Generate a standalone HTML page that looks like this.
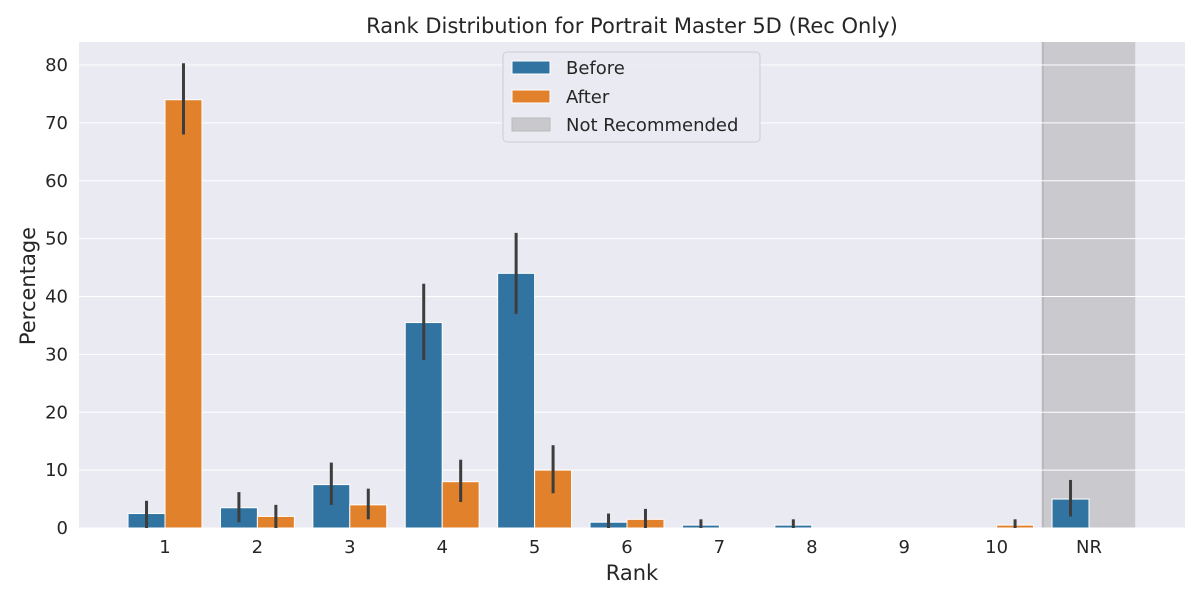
<!DOCTYPE html>
<html><head><meta charset="utf-8"><style>
body{margin:0;background:#fff}
svg{display:block;font-family:"DejaVu Sans","Liberation Sans",sans-serif}
</style></head><body>
<svg id="chart" width="1200" height="600">
<rect x="79" y="42" width="1106" height="486" fill="#eaeaf2"/>
<rect id="nr" y="42" height="486" fill="#cac9ce"/>
<line id="nrl" y1="42" y2="528" stroke="#b8b7bc" stroke-width="2"/>
<g id="grid"></g>
<g id="bars"></g>
<g id="ticks" font-size="18" fill="#262626"></g>
<text x="632" y="33" text-anchor="middle" font-size="21" fill="#262626">Rank Distribution for Portrait Master 5D (Rec Only)</text>
<text x="632" y="580" text-anchor="middle" font-size="21" fill="#262626">Rank</text>
<text transform="translate(35,286) rotate(-90)" text-anchor="middle" font-size="21" fill="#262626">Percentage</text>
<g>
<rect x="503" y="52" width="257" height="90" rx="4" fill="#eaeaf2" stroke="#cccccc" opacity="0.9"/>
<rect x="512" y="61" width="38" height="13" fill="#3274a1" stroke="#fff"/>
<text x="566" y="74" font-size="18" fill="#262626">Before</text>
<rect x="512" y="90" width="38" height="13" fill="#e1812c" stroke="#fff"/>
<text x="566" y="103" font-size="18" fill="#262626">After</text>
<rect x="512" y="118" width="38" height="13" fill="#c9c8cd" stroke="#bbb"/>
<text x="566" y="131" font-size="18" fill="#262626">Not Recommended</text>
</g>
</svg>
<script>
const categories=["1","2","3","4","5","6","7","8","9","10","NR"];
const beforeVals=[2.5,3.5,7.5,35.5,44,1,0.5,0.5,0,0,5];
const afterVals=[74,2,4,8,10,1.5,0,0,0,0.5,0];
const beforeLo=[0,1,4,29,37,0,0,0,0,0,2];
const beforeHi=[4.7,6.2,11.3,42.2,51,2.5,1.5,1.5,0,0,8.3];
const afterLo=[68,0,1.5,4.5,6,0,0,0,0,0,0];
const afterHi=[80.3,4,6.8,11.8,14.3,3.3,0,0,0,1.5,0];
const yTicks=[0,10,20,30,40,50,60,70,80];
const NS='http://www.w3.org/2000/svg';
const xs=i=>165+92.4*i;
const ys=v=>528-v*5.7875;
const bw=92.4*0.4;
function mk(tag,attrs,parent){const e=document.createElementNS(NS,tag);for(const k in attrs)e.setAttribute(k,attrs[k]);document.getElementById(parent).appendChild(e);return e;}
yTicks.forEach(t=>{
  const l=mk('line',{x1:79,x2:1185,y1:ys(t),y2:ys(t),stroke:'#fff','stroke-width':1},'grid');
  
  
  const tx=mk('text',{x:68,y:ys(t)+6,'text-anchor':'end'},'ticks');tx.textContent=t;
  
  
});
const nr=document.getElementById('nr');
nr.setAttribute('x',xs(10)-46.2);nr.setAttribute('width',92.4);
const nrl=document.getElementById('nrl');
nrl.setAttribute('x1',xs(10)-46.2);nrl.setAttribute('x2',xs(10)-46.2);
categories.forEach((c,i)=>{
  const tx=mk('text',{x:xs(i),y:553,'text-anchor':'middle'},'ticks');tx.textContent=c;
  
  
  [[beforeVals,beforeLo,beforeHi,'#3274a1',-1,'before'],[afterVals,afterLo,afterHi,'#e1812c',0,'after']].forEach(([v,lo,hi,col,off,nm])=>{
    const x0=xs(i)+off*bw;
    if(v[i]>0){
      const r=mk('rect',{x:x0,y:ys(v[i]),width:bw,height:ys(0)-ys(v[i]),fill:col,stroke:'#fff','stroke-width':1},'bars');
      
      
    }
    if(hi[i]>lo[i]){
      const e=mk('line',{x1:x0+bw/2,x2:x0+bw/2,y1:ys(lo[i]),y2:ys(hi[i]),stroke:'#3d3d3d','stroke-width':3},'bars');
      
      
    }
  });
});
</script>
</body></html>
